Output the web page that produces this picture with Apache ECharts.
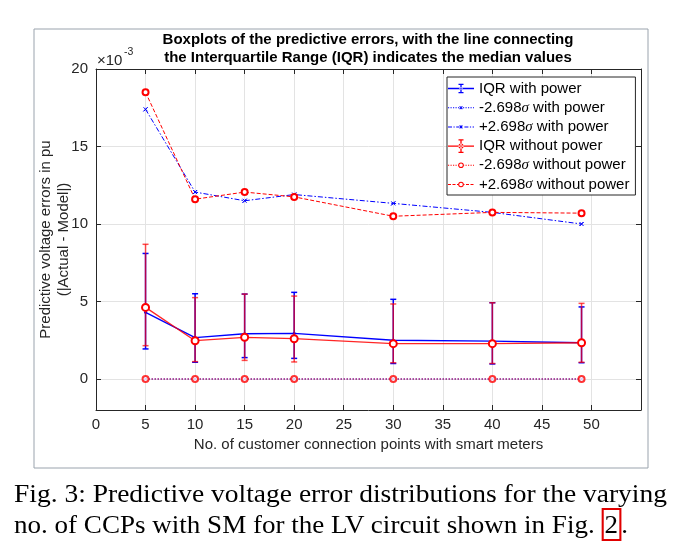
<!DOCTYPE html>
<html>
<head>
<meta charset="utf-8">
<script src="https://cdn.jsdelivr.net/npm/echarts@6/dist/echarts.min.js"></script>
<style>
  html, body { margin: 0; padding: 0; background: #fff; }
  #wrap { position: relative; width: 673px; height: 559px; overflow: hidden; }
  #chart { position: absolute; left: 0; top: 0; width: 673px; height: 559px; }
  #caption {
    position: absolute; left: 14px; top: 478px; width: 700px;
    font-family: "Liberation Serif", "Times New Roman", serif;
    font-size: 26px; line-height: 31px; color: #000;
  }
  #caption .ln { display: inline-block; white-space: nowrap; transform-origin: 0 0; }
  #caption .ref { border: 2px solid #e00000; padding: 0 1px; }
</style>
</head>
<body>
<div id="wrap">
  <div id="chart"></div>
  <div id="caption">
    <div><span class="ln" id="cap1">Fig. 3: Predictive voltage error distributions for the varying</span></div>
    <div><span class="ln" id="cap2">no. of CCPs with SM for the LV circuit shown in Fig. <span class="ref">2</span>.</span></div>
  </div>
</div>
<script>
// number of CCPs with smart meters
var ccps = [5, 10, 15, 20, 30, 40, 49];

// all error values in units of 1e-3 pu
var medPower = [4.3, 2.67, 2.92, 2.95, 2.5, 2.45, 2.34];
var q1Power = [1.94, 1.08, 1.38, 1.33, 1.0, 0.97, 1.05];
var q3Power = [8.1, 5.5, 5.48, 5.59, 5.14, 4.92, 4.65];
var lowSigmaPower = [0, 0, 0, 0, 0, 0, 0];
var highSigmaPower = [17.4, 12.06, 11.5, 11.9, 11.33, 10.75, 10.0];

var medNoPower = [4.62, 2.47, 2.69, 2.6, 2.28, 2.28, 2.34];
var q1NoPower = [2.15, 1.12, 1.2, 1.1, 1.05, 1.0, 1.08];
var q3NoPower = [8.69, 5.25, 5.48, 5.35, 4.84, 4.92, 4.88];
var lowSigmaNoPower = [0, 0, 0, 0, 0, 0, 0];
var highSigmaNoPower = [18.5, 11.6, 12.06, 11.75, 10.5, 10.75, 10.7];

var yTicks = [0, 5, 10, 15, 20];

var BLUE = '#0000ff';
var RED = '#ff0000';
var TXT = '#262626';
var FONT = 'Liberation Sans, Arial, sans-serif';
var FS = 15;
var xMark = 'path://M0,0L10,10M10,0L0,10Z';

// ---- legend icons (26 x 14 box) ----
var IW = 26, IH = 14, CX = 13, CY = 7;
function rect(x, y, w, h) {
  return 'M' + x + ',' + y + 'h' + w + 'v' + h + 'h' + (-w) + 'z';
}
function corners() {
  return rect(0, 0, 0.01, 0.01) + rect(IW - 0.01, IH - 0.01, 0.01, 0.01);
}
function run(pattern, g0, g1, t) {
  var s = '', x = 0, k = 0;
  while (x < IW && k < 200) {
    var len = pattern[k % pattern.length];
    if (k % 2 === 0) {
      var a = x, b = Math.min(x + len, IW);
      if (b <= g0 || a >= g1) {
        s += rect(a, CY - t / 2, b - a, t);
      } else {
        if (a < g0) s += rect(a, CY - t / 2, g0 - a, t);
        if (b > g1) s += rect(g1, CY - t / 2, b - g1, t);
      }
    }
    x += len;
    k++;
  }
  return s;
}
function dot(r) {
  return 'M' + (CX - r) + ',' + CY + 'a' + r + ',' + r + ' 0 1,0 ' + (2 * r) + ',0a' + r + ',' + r + ' 0 1,0 ' + (-2 * r) + ',0z';
}
function ring(r, t) {
  var q = r - t;
  return dot(r) + 'M' + (CX - q) + ',' + CY + 'a' + q + ',' + q + ' 0 1,1 ' + (2 * q) + ',0a' + q + ',' + q + ' 0 1,1 ' + (-2 * q) + ',0z';
}
function cross(s, d) {
  return 'M' + (CX - s) + ',' + (CY - s + d) + 'L' + (CX - s + d) + ',' + (CY - s) + 'L' + (CX + s) + ',' + (CY + s - d) + 'L' + (CX + s - d) + ',' + (CY + s) + 'z' +
         'M' + (CX - s + d) + ',' + (CY + s) + 'L' + (CX - s) + ',' + (CY + s - d) + 'L' + (CX + s - d) + ',' + (CY - s) + 'L' + (CX + s) + ',' + (CY - s + d) + 'z';
}
function errBar(hb, cw) {
  return rect(CX - 0.65, CY - hb, 1.3, 2 * hb) + rect(CX - cw / 2, CY - hb, cw, 1.2) + rect(CX - cw / 2, CY + hb - 1.2, cw, 1.2);
}
var iconIqrPow = 'path://' + corners() + run([IW, 0], -1, -1, 1.3) + errBar(4.7, 5) + dot(1.6);
var iconLowPow = 'path://' + corners() + run([1.2, 1.3], 11, 15, 1) + cross(1.8, 0.8);
var iconHighPow = 'path://' + corners() + run([4, 1.5, 1.2, 1.5], 11, 15, 1) + cross(1.8, 0.8);
var iconIqrNo = 'path://' + corners() + run([IW, 0], -1, -1, 1.3) + errBar(6.9, 5) + dot(2.6);
var iconLowNo = 'path://' + corners() + run([1.2, 1.3], 10.2, 15.8, 1) + ring(2.8, 1);
var iconHighNo = 'path://' + corners() + run([3, 1.5], 10.2, 15.8, 1) + ring(2.8, 1);

function pairs(ys) {
  return ccps.map(function (x, i) { return [x, ys[i]]; });
}
function bars(lo, hi) {
  return ccps.map(function (x, i) { return [x, lo[i], hi[i]]; });
}

function errorBars(color, opacity) {
  return function (params, api) {
    var x = api.value(0);
    var p1 = api.coord([x, api.value(1)]);
    var p2 = api.coord([x, api.value(2)]);
    var w = 3;
    var style = { stroke: color, lineWidth: 1.5, opacity: opacity };
    return {
      type: 'group',
      children: [
        { type: 'line', shape: { x1: p1[0], y1: p1[1], x2: p2[0], y2: p2[1] }, style: style },
        { type: 'line', shape: { x1: p1[0] - w, y1: p1[1], x2: p1[0] + w, y2: p1[1] }, style: style },
        { type: 'line', shape: { x1: p2[0] - w, y1: p2[1], x2: p2[0] + w, y2: p2[1] }, style: style }
      ]
    };
  };
}

function sig(s) {
  return '{t|' + s.replace('σ', '}{s|σ}{t|') + '}';
}

function legendItem(name, icon, color) {
  return { name: name, icon: icon, itemStyle: { color: color, borderWidth: 0, opacity: 1 } };
}

var chart = echarts.init(document.getElementById('chart'));

var option = {
  backgroundColor: '#ffffff',
  animation: false,
  textStyle: { fontFamily: FONT, color: TXT },
  title: {
    text: 'Boxplots of the predictive errors, with the line connecting\nthe Interquartile Range (IQR) indicates the median values',
    left: 368,
    top: 31,
    textAlign: 'center',
    padding: 0,
    textStyle: { fontSize: FS, fontWeight: 'bold', color: '#000', lineHeight: 18, fontFamily: FONT }
  },
  graphic: [
    { type: 'rect', shape: { x: 34, y: 29, width: 614, height: 439 }, style: { fill: 'none', stroke: '#9aa3ad', lineWidth: 1 }, z: -1 },
    { type: 'text', left: 97, top: 53, style: { text: '×10', fontSize: FS, fill: TXT, fontFamily: FONT } },
    { type: 'text', left: 124, top: 47, style: { text: '-3', fontSize: 10.5, fill: TXT, fontFamily: FONT } }
  ],
  legend: {
    left: 447,
    top: 77,
    orient: 'vertical',
    backgroundColor: '#fff',
    borderColor: '#262626',
    borderWidth: 1,
    borderRadius: 0,
    padding: [4, 6, 3, 1],
    itemWidth: IW,
    itemHeight: IH,
    itemGap: 4.2,
    itemStyle: { borderWidth: 0 },
    lineStyle: { width: 0 },
    textStyle: {
      fontSize: FS,
      color: '#000',
      rich: {
        t: { fontSize: FS, color: '#000', fontFamily: FONT, lineHeight: 15 },
        s: { fontSize: FS, color: '#000', fontStyle: 'italic', fontFamily: 'Liberation Serif, serif', lineHeight: 15 }
      }
    },
    formatter: function (name) { return sig(name); },
    data: [
      legendItem('IQR with power', iconIqrPow, BLUE),
      legendItem('-2.698σ with power', iconLowPow, BLUE),
      legendItem('+2.698σ with power', iconHighPow, BLUE),
      legendItem('IQR without power', iconIqrNo, RED),
      legendItem('-2.698σ without power', iconLowNo, RED),
      legendItem('+2.698σ without power', iconHighNo, RED)
    ]
  },
  grid: { left: 96, right: 32, top: 69, bottom: 149 },
  xAxis: [{
    type: 'value', min: 0, max: 55, interval: 5,
    name: 'No. of customer connection points with smart meters',
    nameLocation: 'middle', nameGap: 27, nameMoveOverlap: false,
    nameTextStyle: { fontSize: FS, color: TXT },
    axisLine: { onZero: false, lineStyle: { color: '#262626' } },
    axisTick: { inside: true, length: 5, lineStyle: { color: '#262626' } },
    axisLabel: { fontSize: FS, color: TXT, margin: 7, showMaxLabel: false },
    splitLine: { show: true, lineStyle: { color: '#e3e3e3' } }
  }, {
    type: 'value', min: 0, max: 55, interval: 5, position: 'top',
    axisLine: { onZero: false, lineStyle: { color: '#262626' } },
    axisTick: { inside: true, length: 5, lineStyle: { color: '#262626' } },
    axisLabel: { show: false },
    splitLine: { show: false }
  }],
  yAxis: [{
    type: 'value', min: -2, max: 20,
    name: 'Predictive voltage errors in pu\n(|Actual - Model|)',
    nameLocation: 'middle', nameRotate: 90, nameGap: 23, nameMoveOverlap: false,
    nameTextStyle: { fontSize: FS, color: TXT, lineHeight: 18 },
    axisLine: { show: true, onZero: false, lineStyle: { color: '#262626' } },
    axisTick: { show: true, inside: true, length: 5, customValues: yTicks, lineStyle: { color: '#262626' } },
    axisLabel: { fontSize: FS, color: TXT, margin: 8, customValues: yTicks },
    splitLine: { show: true, lineStyle: { color: '#e3e3e3' } }
  }, {
    type: 'value', min: -2, max: 20, position: 'right',
    axisLine: { show: true, onZero: false, lineStyle: { color: '#262626' } },
    axisTick: { show: true, inside: true, length: 5, customValues: yTicks, lineStyle: { color: '#262626' } },
    axisLabel: { show: false },
    splitLine: { show: false }
  }],
  series: [
    {
      name: 'IQR with power', type: 'line', data: pairs(medPower),
      color: BLUE, symbol: 'circle', symbolSize: 3,
      lineStyle: { width: 1.3, color: BLUE }, itemStyle: { color: BLUE }, z: 3
    },
    {
      name: 'IQR with power', type: 'custom', data: bars(q1Power, q3Power),
      renderItem: errorBars(BLUE, 1), encode: { x: 0, y: [1, 2] }, z: 3
    },
    {
      name: '-2.698σ with power', type: 'line', data: pairs(lowSigmaPower),
      color: BLUE, symbol: xMark, symbolSize: 4,
      lineStyle: { width: 1, type: [1.5, 1.5], color: BLUE },
      itemStyle: { color: BLUE, borderColor: BLUE, borderWidth: 1 }, z: 3
    },
    {
      name: '+2.698σ with power', type: 'line', data: pairs(highSigmaPower),
      color: BLUE, symbol: xMark, symbolSize: 4,
      lineStyle: { width: 1, type: [5, 2, 1.5, 2], color: BLUE },
      itemStyle: { color: BLUE, borderColor: BLUE, borderWidth: 1 }, z: 3
    },
    {
      name: 'IQR without power', type: 'line', data: pairs(medNoPower),
      color: RED, symbol: 'emptyCircle', symbolSize: 7,
      lineStyle: { width: 1.3, color: RED, opacity: 0.85 },
      itemStyle: { color: RED, borderColor: RED, borderWidth: 1.3 }, z: 4
    },
    {
      name: 'IQR without power', type: 'custom', data: bars(q1NoPower, q3NoPower),
      renderItem: errorBars(RED, 0.7), encode: { x: 0, y: [1, 2] }, z: 4
    },
    {
      name: '-2.698σ without power', type: 'line', data: pairs(lowSigmaNoPower),
      color: RED, symbol: 'emptyCircle', symbolSize: 6,
      lineStyle: { width: 1, type: [1.5, 1.5], color: RED, opacity: 0.75 },
      itemStyle: { color: RED, borderColor: RED, borderWidth: 1.2, opacity: 0.8 }, z: 4
    },
    {
      name: '+2.698σ without power', type: 'line', data: pairs(highSigmaNoPower),
      color: RED, symbol: 'emptyCircle', symbolSize: 6,
      lineStyle: { width: 1, type: [4, 2], color: RED },
      itemStyle: { color: RED, borderColor: RED, borderWidth: 1 }, z: 4
    }
  ]
};

chart.setOption(option);

// stretch caption lines like the justified paper text
function fitLine(id, target) {
  var el = document.getElementById(id);
  var w = el.getBoundingClientRect().width;
  el.style.transform = 'scaleX(' + (target / w) + ')';
}
fitLine('cap1', 653);
fitLine('cap2', 614);
</script>
</body>
</html>
